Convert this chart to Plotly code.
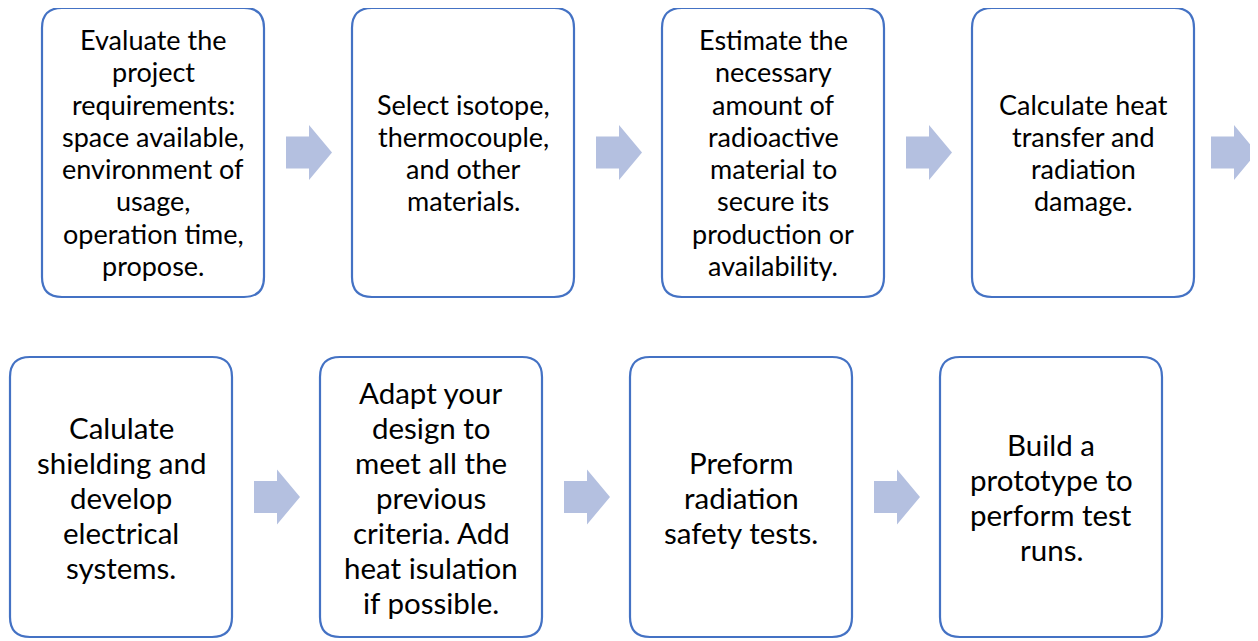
import plotly.graph_objects as go

# ---- data ----
step_texts_row1 = [
    ["Evaluate the", "project", "requirements:", "space available,", "environment of", "usage,", "operation time,", "propose."],
    ["Select isotope,", "thermocouple,", "and other", "materials."],
    ["Estimate the", "necessary", "amount of", "radioactive", "material to", "secure its", "production or", "availability."],
    ["Calculate heat", "transfer and", "radiation", "damage."],
]
step_texts_row2 = [
    ["Calulate", "shielding and", "develop", "electrical", "systems."],
    ["Adapt your", "design to", "meet all the", "previous", "criteria. Add", "heat isulation", "if possible."],
    ["Preform", "radiation", "safety tests."],
    ["Build a", "prototype to", "perform test", "runs."],
]

# ---- layout / style ----
W, H = 1258, 641
OFF = 8  # page body margin
BOX_W = 222
R = 20
BORDER = "#4472C4"
ARROW = "#B4C0E0"
FONT = "Lato"

rows = [
    dict(texts=step_texts_row1, x0=[42, 352, 662, 972], y0=8, y1=297, fs=27, ls=32.3,
         arrows=[286, 596, 906, 1211]),
    dict(texts=step_texts_row2, x0=[10, 320, 630, 940], y0=357, y1=637, fs=29.5, ls=35,
         arrows=[254, 564, 874]),
]

fig = go.Figure()
shapes = []
annotations = []


def rounded(x0, y0, x1, y1, r):
    return (f"M {x0+r},{y0} L {x1-r},{y0} Q {x1},{y0} {x1},{y0+r} "
            f"L {x1},{y1-r} Q {x1},{y1} {x1-r},{y1} L {x0+r},{y1} "
            f"Q {x0},{y1} {x0},{y1-r} L {x0},{y0+r} Q {x0},{y0} {x0+r},{y0} Z")


for row in rows:
    yc = (row["y0"] + row["y1"]) / 2
    for x0, lines in zip(row["x0"], row["texts"]):
        x1 = x0 + BOX_W
        shapes.append(dict(type="path", path=rounded(x0, row["y0"], x1, row["y1"], R),
                           xref="x", yref="y", line=dict(color=BORDER, width=2.2),
                           fillcolor="white", layer="below"))
        n = len(lines)
        xc = (x0 + x1) / 2
        for i, ln in enumerate(lines):
            y = yc + (i - (n - 1) / 2) * row["ls"]
            annotations.append(dict(x=xc, y=y, xref="x", yref="y", text=ln, showarrow=False,
                                    xanchor="center", yanchor="middle",
                                    font=dict(family=FONT, size=row["fs"], color="black")))
    for ax in row["arrows"]:
        L, hl, bh, hh = 46, 23, 16, 27.5
        pts = [(ax, yc - bh), (ax + L - hl, yc - bh), (ax + L - hl, yc - hh), (ax + L, yc),
               (ax + L - hl, yc + hh), (ax + L - hl, yc + bh), (ax, yc + bh)]
        fig.add_trace(go.Scatter(x=[p[0] for p in pts] + [pts[0][0]],
                                 y=[p[1] for p in pts] + [pts[0][1]],
                                 mode="lines", fill="toself", fillcolor=ARROW,
                                 line=dict(width=0, color=ARROW), hoverinfo="skip",
                                 showlegend=False, cliponaxis=True))

fig.update_layout(
    width=W - OFF, height=H - OFF,
    margin=dict(l=0, r=0, t=0, b=0),
    paper_bgcolor="white", plot_bgcolor="white",
    xaxis=dict(range=[OFF, W], visible=False, fixedrange=True),
    yaxis=dict(range=[H, OFF], visible=False, fixedrange=True),
    shapes=shapes, annotations=annotations, showlegend=False,
)
fig.write_html("out.html", config={"displayModeBar": False})
